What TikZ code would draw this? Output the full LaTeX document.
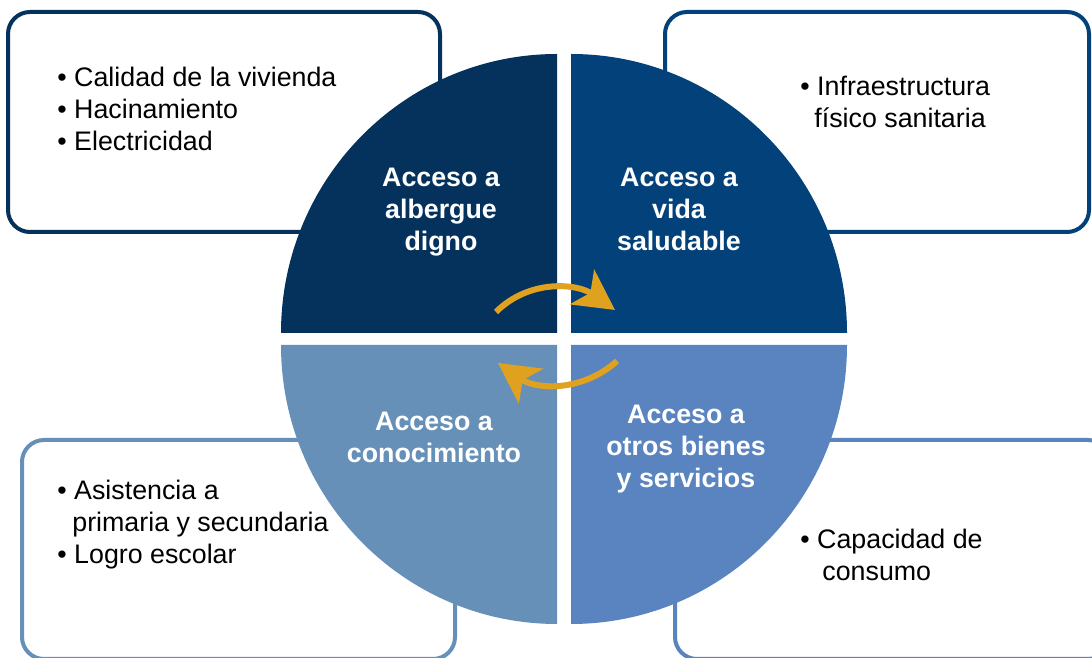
\documentclass[tikz,border=0pt]{standalone}
\usepackage{fontspec}
\setmainfont{Liberation Sans}
\usepackage{xcolor}
\usepackage{tikz}
\usetikzlibrary{arrows.meta}
\definecolor{albcol}{HTML}{04325C}
\definecolor{vidcol}{HTML}{03417A}
\definecolor{concol}{HTML}{6690B8}
\definecolor{otrcol}{HTML}{5A84BF}
\definecolor{arrcol}{HTML}{E0A21E}

\begin{document}
\begin{tikzpicture}[x=0.5pt,y=0.5pt,every node/.style={inner sep=0pt,font=\fontsize{13.4}{16}\selectfont},
    box/.style={line width=2pt,rounded corners=11pt,fill=white},
    lbl/.style={align=center,text=white,font=\fontsize{13.4}{16}\selectfont\bfseries},
    itm/.style={align=left,anchor=north west},
    turn/.style={arrcol,line width=3pt,-{Stealth[length=20pt,width=21pt,inset=5pt]}}]
      \useasboundingbox (0,0) rectangle (1092,658);
      \clip (0,0) rectangle (1092,658);
      \draw[box,draw=albcol] (8,426) rectangle (440,646);
      \draw[box,draw=vidcol] (665,426) rectangle (1089,646);
      \draw[box,draw=concol] (22,-1) rectangle (455,218);
      \draw[box,draw=otrcol] (675,-1) rectangle (1110,218);
      \fill[albcol] (557,325) -- ++(-276,0) arc[start angle=180,end angle=90,x radius=276,y radius=279] -- cycle;
      \fill[vidcol] (571,325) -- ++(0,279) arc[start angle=90,end angle=0,x radius=276,y radius=279] -- cycle;
      \fill[concol] (557,313) -- ++(-276,0) arc[start angle=180,end angle=270,x radius=276,y radius=279] -- cycle;
      \fill[otrcol] (571,313) -- ++(276,0) arc[start angle=0,end angle=-90,x radius=276,y radius=279] -- cycle;
      \node[itm] (alb-t) at (57,591.6) {\textbullet\ Calidad de la vivienda\\\textbullet\ Hacinamiento\\\textbullet\ Electricidad};
      \node[itm] (vid-t) at (800,582.6) {\textbullet\ Infraestructura\\\hspace{7pt}físico sanitaria};
      \node[itm] (con-t) at (57,178.6) {\textbullet\ Asistencia a\\\hspace{7.5pt}primaria y secundaria\\\textbullet\ Logro escolar};
      \node[itm] (otr-t) at (800,129.6) {\textbullet\ Capacidad de\\\hspace{11pt}consumo};
      \node[lbl] (alb) at (441,446) {Acceso a\\albergue\\digno};
      \node[lbl] (vid) at (679,449) {Acceso a\\vida\\saludable};
      \node[lbl] (con) at (434,221) {Acceso a\\conocimiento};
      \node[lbl] (otr) at (686,209) {Acceso a\\otros bienes\\y servicios};
      \coordinate (t1) at (496,346);
      \coordinate (t2) at (615,348);
      \coordinate (b1) at (617,297);
      \coordinate (b2) at (498,295);
      \draw[turn] (t1) to[out=45,in=145] (t2);
      \draw[turn] (b1) to[out=222,in=-35] (b2);
\end{tikzpicture}
\end{document}
